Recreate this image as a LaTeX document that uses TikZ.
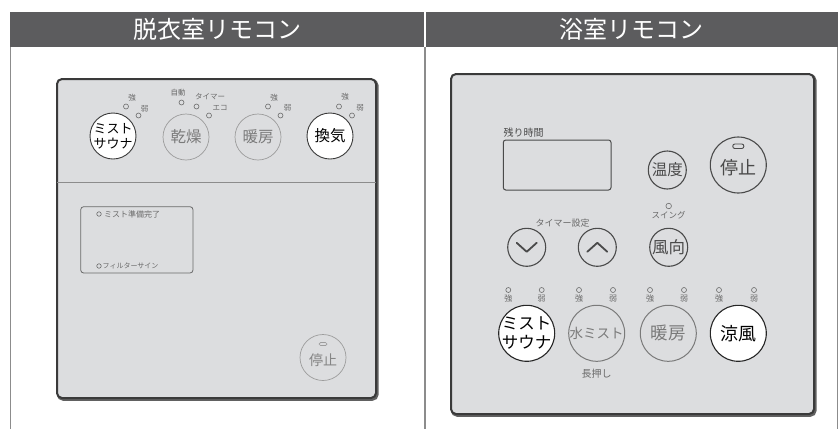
\documentclass[tikz,border=0pt]{standalone}
\usepackage{fontspec}
\setmainfont{Noto Sans CJK JP}
\definecolor{hdr}{HTML}{5C5C5E}
\definecolor{pfill}{HTML}{DCDDDF}
\definecolor{pline}{HTML}{3A3A3A}
\definecolor{lgray}{HTML}{9C9C9C}
\definecolor{mgray}{HTML}{6A6A6A}
\definecolor{dgray}{HTML}{4A4A4A}
\definecolor{bord}{HTML}{8C8C8C}
\definecolor{ggray}{HTML}{7A7A7A}
\begin{document}
\begin{tikzpicture}[x=1pt,y=-1pt,
  title/.style={inner sep=0pt,text=white,font=\fontsize{24}{24}\selectfont},
  lbtn/.style={circle,inner sep=0pt,minimum size=46pt,draw=lgray,line width=0.7pt},
  lbtnw/.style={circle,inner sep=0pt,minimum size=46pt,draw=pline,line width=0.9pt,fill=white},
  rbtn/.style={circle,inner sep=0pt,draw=dgray,line width=1.1pt},
  rbtng/.style={circle,inner sep=0pt,minimum size=56pt,draw=ggray,line width=1pt},
  rbtnw/.style={circle,inner sep=0pt,minimum size=56pt,draw=black!85,line width=1.1pt,fill=white},
  led/.style={circle,inner sep=0pt,minimum size=5pt,draw=mgray,line width=0.6pt},
  tinytxt/.style={inner sep=0pt,text=mgray,font=\fontsize{7.5}{7.5}\selectfont},
  smalltxt/.style={inner sep=0pt,text=mgray,font=\fontsize{8}{8}\selectfont},
  txk/.style={inner sep=0pt,text=black},
  txg/.style={inner sep=0pt,text=ggray},
  txl/.style={inner sep=0pt,text=lgray!85!black},
  txd/.style={inner sep=0pt,text=dgray},
  chev/.style={draw=dgray,line width=1.8pt,line cap=round,line join=round},
  panel/.style={fill=pfill,draw=pline,line width=2pt,rounded corners=5pt},
  shadowp/.style={draw=pline!80,line width=2.6pt,rounded corners=5pt},
]
\useasboundingbox (0,0) rectangle (840,429);
\fill[white] (0,0) rectangle (840,429);
% header
\fill[hdr] (10,12) rectangle (838,47);
\draw[white,line width=1.5pt] (425,12) -- (425,47);
\node[title] (t1) at (217.5,29.5) {脱衣室リモコン};
\node[title] (t2) at (631.5,29.5) {浴室リモコン};
% body lines
\draw[bord,line width=1.2pt] (10.7,47) -- (10.7,429);
\draw[bord,line width=1.2pt] (425,47) -- (425,429);
\draw[bord,line width=1.2pt] (837.5,47) -- (837.5,429);

% ================= left panel
\draw[shadowp] (58.2,80.5) rectangle (377.3,399.5);
\draw[panel] (57,79) rectangle (376,398);
\draw[bord,line width=0.8pt] (57,182) -- (376,182);

\node[lbtnw] (lb1) at (113,136) {};
\node[txk,align=center,font=\fontsize{13}{15}\selectfont] (lb1t) at (lb1) {ミスト\\サウナ};
\node[lbtn] (lb2) at (186,137) {};
\node[txg,font=\fontsize{15.5}{15.5}\selectfont] (lb2t) at (lb2) {乾燥};
\node[lbtn] (lb3) at (258,137) {};
\node[txg,font=\fontsize{15.5}{15.5}\selectfont] (lb3t) at (lb3) {暖房};
\node[lbtnw] (lb4) at (330,136) {};
\node[txk,font=\fontsize{15.5}{15.5}\selectfont] (lb4t) at (lb4) {換気};

% leds left
\node[led] (l1a) at (126,106.5) {};
\node[tinytxt] (l1at) at (132,97.5) {強};
\node[led] (l1b) at (138.5,115.5) {};
\node[tinytxt] (l1bt) at (144.5,108.5) {弱};
\node[led] (l2a) at (181.5,102.5) {};
\node[tinytxt] (l2at) at (178,93) {自動};
\node[led] (l2b) at (196.5,106.5) {};
\node[tinytxt] (l2bt) at (210,96.5) {タイマー};
\node[led] (l2c) at (209,115.5) {};
\node[tinytxt] (l2ct) at (220,108) {エコ};
\node[led] (l3a) at (268,106.5) {};
\node[tinytxt] (l3at) at (274,98) {強};
\node[led] (l3b) at (280.5,115.5) {};
\node[tinytxt] (l3bt) at (287.5,108) {弱};
\node[led] (l4a) at (339,106.5) {};
\node[tinytxt] (l4at) at (345,97) {強};
\node[led] (l4b) at (352,115.5) {};
\node[tinytxt] (l4bt) at (360,108) {弱};

% left display
\draw[draw=mgray,line width=0.8pt,rounded corners=3pt] (80.7,206.7) rectangle (193,273);
\node[led,minimum size=4.5pt] (ld1) at (99,214) {};
\node[smalltxt,anchor=west] (ld1t) at (104,214) {ミスト準備完了};
\node[led,minimum size=4.5pt] (ld2) at (99,266) {};
\node[smalltxt,anchor=west,font=\fontsize{7}{7}\selectfont] (ld2t) at (102.5,266) {フィルターサイン};

% left stop
\node[lbtn] (lstop) at (323,357.5) {};
\node[txl,font=\fontsize{14}{14}\selectfont] (lstopt) at (323,360.5) {停止};
\draw[lgray,line width=0.7pt,rounded corners=1.5pt] (319,342.5) rectangle (327,345.5);

% ================= right panel
\draw[shadowp] (452.2,75.5) rectangle (815.3,415.5);
\draw[panel] (451,74) rectangle (814,414);

\node[txd,anchor=west,font=\fontsize{10}{10}\selectfont] (rem) at (503.5,133) {残り時間};
\draw[dgray,line width=1pt,rounded corners=2.5pt] (503.3,140) rectangle (611,190);

\node[rbtn,minimum size=38pt] (temp) at (667.3,170) {};
\node[txd,font=\fontsize{15.5}{15.5}\selectfont] (tempt) at (temp) {温度};
\node[rbtn,minimum size=56pt] (rstop) at (738.3,165) {};
\node[txd,font=\fontsize{18}{18}\selectfont] (rstopt) at (738.3,168) {停止};
\draw[dgray,line width=0.9pt,rounded corners=2pt] (732.8,144) rectangle (743.8,148.5);

\node[smalltxt,font=\fontsize{9}{9}\selectfont] (tmr) at (562.7,223.3) {タイマー設定};
\node[rbtn,minimum size=38pt] (down) at (526.7,247.3) {};
\draw[chev] ([xshift=-10pt,yshift=4.5pt]down.center) -- ([yshift=-4.5pt]down.center) -- ([xshift=10pt,yshift=4.5pt]down.center);
\node[rbtn,minimum size=38pt] (up) at (597.3,247.3) {};
\draw[chev] ([xshift=-10pt,yshift=-4.5pt]up.center) -- ([yshift=4.5pt]up.center) -- ([xshift=10pt,yshift=-4.5pt]up.center);
\node[rbtn,minimum size=38pt] (wind) at (668.7,247.3) {};
\node[txd,font=\fontsize{16.5}{16.5}\selectfont] (windt) at (wind) {風向};
\node[led,minimum size=5.5pt] (swl) at (668.7,206) {};
\node[smalltxt,font=\fontsize{8.5}{8.5}\selectfont] (swt) at (668.7,215) {スイング};

% bottom buttons
\node[rbtnw] (rb1) at (526.7,333.3) {};
\node[txk,align=center,font=\fontsize{16.5}{19}\selectfont] (rb1t) at (rb1) {ミスト\\サウナ};
\node[rbtng] (rb2) at (596.7,333.3) {};
\node[txg,font=\fontsize{13.5}{13.5}\selectfont] (rb2t) at (rb2) {水ミスト};
\node[rbtng] (rb3) at (668.3,333.3) {};
\node[txg,font=\fontsize{17.5}{17.5}\selectfont] (rb3t) at (rb3) {暖房};
\node[rbtnw] (rb4) at (738.3,333.3) {};
\node[txk,font=\fontsize{18}{18}\selectfont] (rb4t) at (rb4) {涼風};
\node[smalltxt,font=\fontsize{10}{10}\selectfont] (long) at (596.7,373.3) {長押し};

% bottom leds
\foreach \x/\t [count=\i] in {508.3/強,541.7/弱,579/強,613/弱,650/強,684/弱,719/強,754/弱}{
  \node[led] (bl\i) at (\x,290) {};
  \node[tinytxt,font=\fontsize{8}{8}\selectfont] (blt\i) at (\x,298.5) {\t};
}
\end{tikzpicture}
\end{document}
